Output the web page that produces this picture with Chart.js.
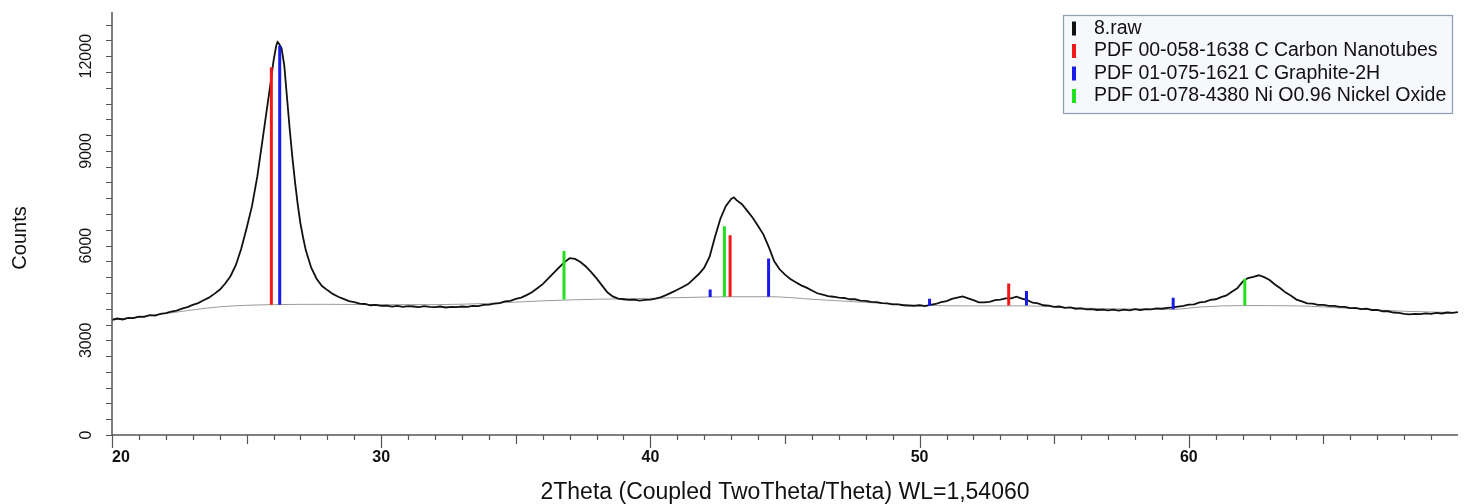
<!DOCTYPE html>
<html>
<head>
<meta charset="utf-8">
<script src="https://cdn.jsdelivr.net/npm/chart.js@4"></script>
<style>
html,body{margin:0;padding:0;background:#fff;}
#wrap{width:1467px;height:504px;}
</style>
</head>
<body>
<div id="wrap"><canvas id="xrdChart" width="1467" height="504"></canvas></div>
<script>

const twoTheta = [
20.0,20.2,20.4,20.6,20.8,21.0,21.2,21.4,21.6,21.8,22.0,22.2,22.4,22.6,22.8,23.0,23.2,23.4,23.6,23.8,
24.0,24.2,24.4,24.6,24.8,25.0,25.2,25.4,25.5,25.6,25.7,25.8,25.9,26.0,26.1,26.15,26.2,26.3,26.4,26.5,
26.6,26.7,26.8,26.9,27.0,27.1,27.2,27.4,27.6,27.8,28.0,28.2,28.4,28.6,28.8,29.0,29.2,29.4,29.6,29.8,
30.0,30.2,30.4,30.6,30.8,31.0,31.2,31.4,31.6,31.8,32.0,32.2,32.4,32.6,32.8,33.0,33.2,33.4,33.6,33.8,
34.0,34.2,34.4,34.6,34.8,35.0,35.2,35.4,35.6,35.8,36.0,36.2,36.4,36.6,36.8,37.0,37.2,37.4,37.6,37.8,
38.0,38.2,38.4,38.6,38.8,39.0,39.2,39.4,39.6,39.8,40.0,40.2,40.4,40.6,40.8,41.0,41.2,41.4,41.6,41.8,
42.0,42.2,42.4,42.6,42.8,43.0,43.1,43.2,43.4,43.6,43.8,44.0,44.2,44.4,44.6,44.8,45.0,45.2,45.4,45.6,
45.8,46.0,46.2,46.4,46.6,46.8,47.0,47.2,47.4,47.6,47.8,48.0,48.2,48.4,48.6,48.8,49.0,49.2,49.4,49.6,
49.8,50.0,50.2,50.4,50.6,50.8,51.0,51.2,51.4,51.6,51.8,52.0,52.2,52.4,52.6,52.8,53.0,53.2,53.4,53.6,
53.8,54.0,54.2,54.4,54.6,54.8,55.0,55.2,55.4,55.6,55.8,56.0,56.2,56.4,56.6,56.8,57.0,57.2,57.4,57.6,
57.8,58.0,58.2,58.4,58.6,58.8,59.0,59.2,59.4,59.6,59.8,60.0,60.2,60.4,60.6,60.8,61.0,61.2,61.4,61.6,
61.8,62.0,62.2,62.4,62.6,62.8,63.0,63.2,63.4,63.6,63.8,64.0,64.2,64.4,64.6,64.8,65.0,65.2,65.4,65.6,
65.8,66.0,66.2,66.4,66.6,66.8,67.0,67.2,67.4,67.6,67.8,68.0,68.2,68.4,68.6,68.8,69.0,69.2,69.4,69.6,
69.8,70.0
];

const counts = [
3650,3690,3660,3710,3700,3750,3740,3800,3780,3840,3860,3910,3940,4000,4050,4120,4180,4270,4350,4470,
4600,4790,5030,5380,5900,6550,7250,8200,8800,9400,10000,10600,11200,11850,12330,12450,12400,12250,11700,10700,
9700,8800,8000,7300,6700,6250,5850,5300,4950,4720,4590,4470,4380,4310,4240,4210,4160,4150,4110,4120,
4090,4100,4070,4090,4060,4080,4070,4050,4080,4060,4050,4070,4040,4060,4050,4070,4060,4090,4080,4120,
4130,4160,4180,4230,4250,4310,4350,4430,4520,4650,4780,4950,5130,5300,5470,5600,5580,5480,5340,5160,
4960,4740,4520,4390,4320,4300,4280,4290,4260,4280,4290,4320,4370,4440,4520,4600,4690,4780,4940,5100,
5300,5650,6280,6850,7250,7480,7530,7440,7310,7100,6880,6620,6350,5950,5500,5250,5080,4940,4840,4740,
4670,4580,4490,4450,4400,4380,4350,4340,4300,4300,4260,4250,4220,4210,4180,4170,4140,4140,4110,4100,
4090,4110,4080,4120,4150,4210,4240,4310,4350,4390,4330,4270,4200,4200,4220,4270,4290,4330,4330,4380,
4320,4270,4190,4170,4110,4100,4060,4070,4030,4040,4000,4010,3980,3990,3960,3970,3950,3970,3940,3970,
3950,3990,3960,3990,3980,4010,4000,4030,4040,4070,4090,4130,4140,4200,4220,4280,4300,4370,4420,4540,
4650,4860,4970,5010,5060,5000,4910,4770,4650,4510,4410,4290,4230,4170,4160,4120,4120,4090,4090,4060,
4060,4020,4030,3990,4000,3960,3960,3920,3920,3880,3870,3840,3820,3840,3830,3850,3840,3870,3850,3880,
3870,3890
];

const bgTheta = [20,22,24,26,28,30,32,34,36,38,40,42,43,44.5,46,48,50.4,52,54,56,58,59.4,60.5,62,64,66,68,70];
const bgCounts = [3640,3850,4060,4130,4140,4130,4130,4170,4250,4300,4330,4370,4380,4380,4300,4200,4100,4090,4090,4020,3990,3980,4060,4100,4090,4010,3920,3880];

const redTheta = [25.92,42.96,53.31];
const redTop = [11650,6330,4800];
const redBase = [4130,4380,4100];

const blueTheta = [26.23,42.22,44.39,50.37,53.97,59.42];
const blueTop = [12330,4610,5590,4320,4560,4350];
const blueBase = [4130,4370,4380,4090,4100,3980];

const greenTheta = [36.79,42.75,62.08];
const greenTop = [5830,6610,4950];
const greenBase = [4290,4380,4100];

const legendLabels = ["8.raw","PDF 00-058-1638 C Carbon Nanotubes","PDF 01-075-1621 C Graphite-2H","PDF 01-078-4380 Ni O0.96 Nickel Oxide"];
const legendColors = ["#111111","#f01818","#1a1ae8","#22e022"];

const xTickLabels = [20,30,40,50,60];
const yTickLabels = [0,3000,6000,9000,12000];

const xMin = 20, xMax = 70, yMin = 0, yMax = 13400;

function sticks(theta,base,top){
const pts = [];
theta.forEach((t,i)=>{
pts.push({x:t,y:base[i]});
pts.push({x:t,y:top[i]});
pts.push({x:t,y:null});
});
return pts;
}

const axesPlugin = {
id:"xrdAxes",
afterDraw(chart){
const ctx = chart.ctx;
const a = chart.chartArea;
const xs = chart.scales.x;
const ys = chart.scales.y;

ctx.save();
ctx.strokeStyle = "#555";
ctx.lineWidth = 1.5;
ctx.beginPath();
ctx.moveTo(a.left,a.top);
ctx.lineTo(a.left,a.bottom);
ctx.lineTo(a.right,a.bottom);
ctx.stroke();

ctx.lineWidth = 1.2;
ctx.beginPath();
for(let v=yMin; v<=yMax; v+=500){
const py = Math.round(ys.getPixelForValue(v))+0.5;
ctx.moveTo(a.left-6,py);
ctx.lineTo(a.left,py);
}
for(let t=xMin; t<xMax; t++){
const px = Math.round(xs.getPixelForValue(t))+0.5;
const len = t%10===0 ? 13 : (t%5===0 ? 9 : 5);
ctx.moveTo(px,a.bottom);
ctx.lineTo(px,a.bottom+len);
}
ctx.stroke();

ctx.fillStyle = "#111";
ctx.font = "bold 16px 'Liberation Sans', Arial, sans-serif";
ctx.textBaseline = "middle";
xTickLabels.forEach(t=>{
const px = xs.getPixelForValue(t);
ctx.textAlign = t===xMin ? "left" : "center";
ctx.fillText(String(t),px,a.bottom+23);
});

ctx.font = "16px 'Liberation Sans', Arial, sans-serif";
ctx.textAlign = "center";
yTickLabels.forEach(v=>{
const py = ys.getPixelForValue(v);
ctx.save();
ctx.translate(a.left-25,py);
ctx.rotate(-Math.PI/2);
ctx.fillText(String(v),0,0);
ctx.restore();
});

ctx.font = "20px 'Liberation Sans', Arial, sans-serif";
ctx.save();
ctx.translate(20,238);
ctx.rotate(-Math.PI/2);
ctx.fillText("Counts",0,0);
ctx.restore();

ctx.font = "23px 'Liberation Sans', Arial, sans-serif";
ctx.fillText("2Theta (Coupled TwoTheta/Theta) WL=1,54060",(a.left+a.right)/2,493);
ctx.restore();
}
};

const legendPlugin = {
id:"xrdLegend",
afterDraw(chart){
const ctx = chart.ctx;
const bx = 1063, by = 15, bw = 389, bh = 98;
ctx.save();
ctx.fillStyle = "#f6f8fb";
ctx.strokeStyle = "#8d9db3";
ctx.lineWidth = 1.2;
ctx.fillRect(bx,by,bw,bh);
ctx.strokeRect(bx+0.5,by+0.5,bw,bh);
ctx.font = "19.5px 'Liberation Sans', Arial, sans-serif";
ctx.textBaseline = "middle";
ctx.textAlign = "left";
legendLabels.forEach((label,i)=>{
const y = by+13.5+i*22.5;
ctx.fillStyle = legendColors[i];
ctx.fillRect(bx+9,y-7,4,14);
ctx.fillStyle = "#111";
ctx.fillText(label,bx+31,y);
});
ctx.restore();
}
};

new Chart(document.getElementById("xrdChart"),{
type:"line",
data:{
datasets:[
{
label:legendLabels[1],
data:sticks(redTheta,redBase,redTop),
borderColor:legendColors[1],
borderWidth:3,
borderCapStyle:"butt",
pointRadius:0,
spanGaps:false,
order:0
},
{
label:legendLabels[2],
data:sticks(blueTheta,blueBase,blueTop),
borderColor:legendColors[2],
borderWidth:3,
borderCapStyle:"butt",
pointRadius:0,
spanGaps:false,
order:0
},
{
label:legendLabels[3],
data:sticks(greenTheta,greenBase,greenTop),
borderColor:legendColors[3],
borderWidth:3,
borderCapStyle:"butt",
pointRadius:0,
spanGaps:false,
order:0
},
{
label:legendLabels[0],
data:twoTheta.map((t,i)=>({x:t,y:counts[i]})),
borderColor:"#111",
borderWidth:1.8,
pointRadius:0,
tension:0,
order:1
},
{
label:"Background",
data:bgTheta.map((t,i)=>({x:t,y:bgCounts[i]})),
borderColor:"#9a9a9a",
borderWidth:1,
pointRadius:0,
cubicInterpolationMode:"monotone",
order:2
}
]
},
options:{
responsive:false,
animation:false,
layout:{padding:{left:112,right:9,top:12,bottom:69}},
plugins:{legend:{display:false},tooltip:{enabled:false}},
scales:{
x:{type:"linear",min:xMin,max:xMax,display:false},
y:{type:"linear",min:yMin,max:yMax,display:false}
}
},
plugins:[axesPlugin,legendPlugin]
});

</script>
</body>
</html>
